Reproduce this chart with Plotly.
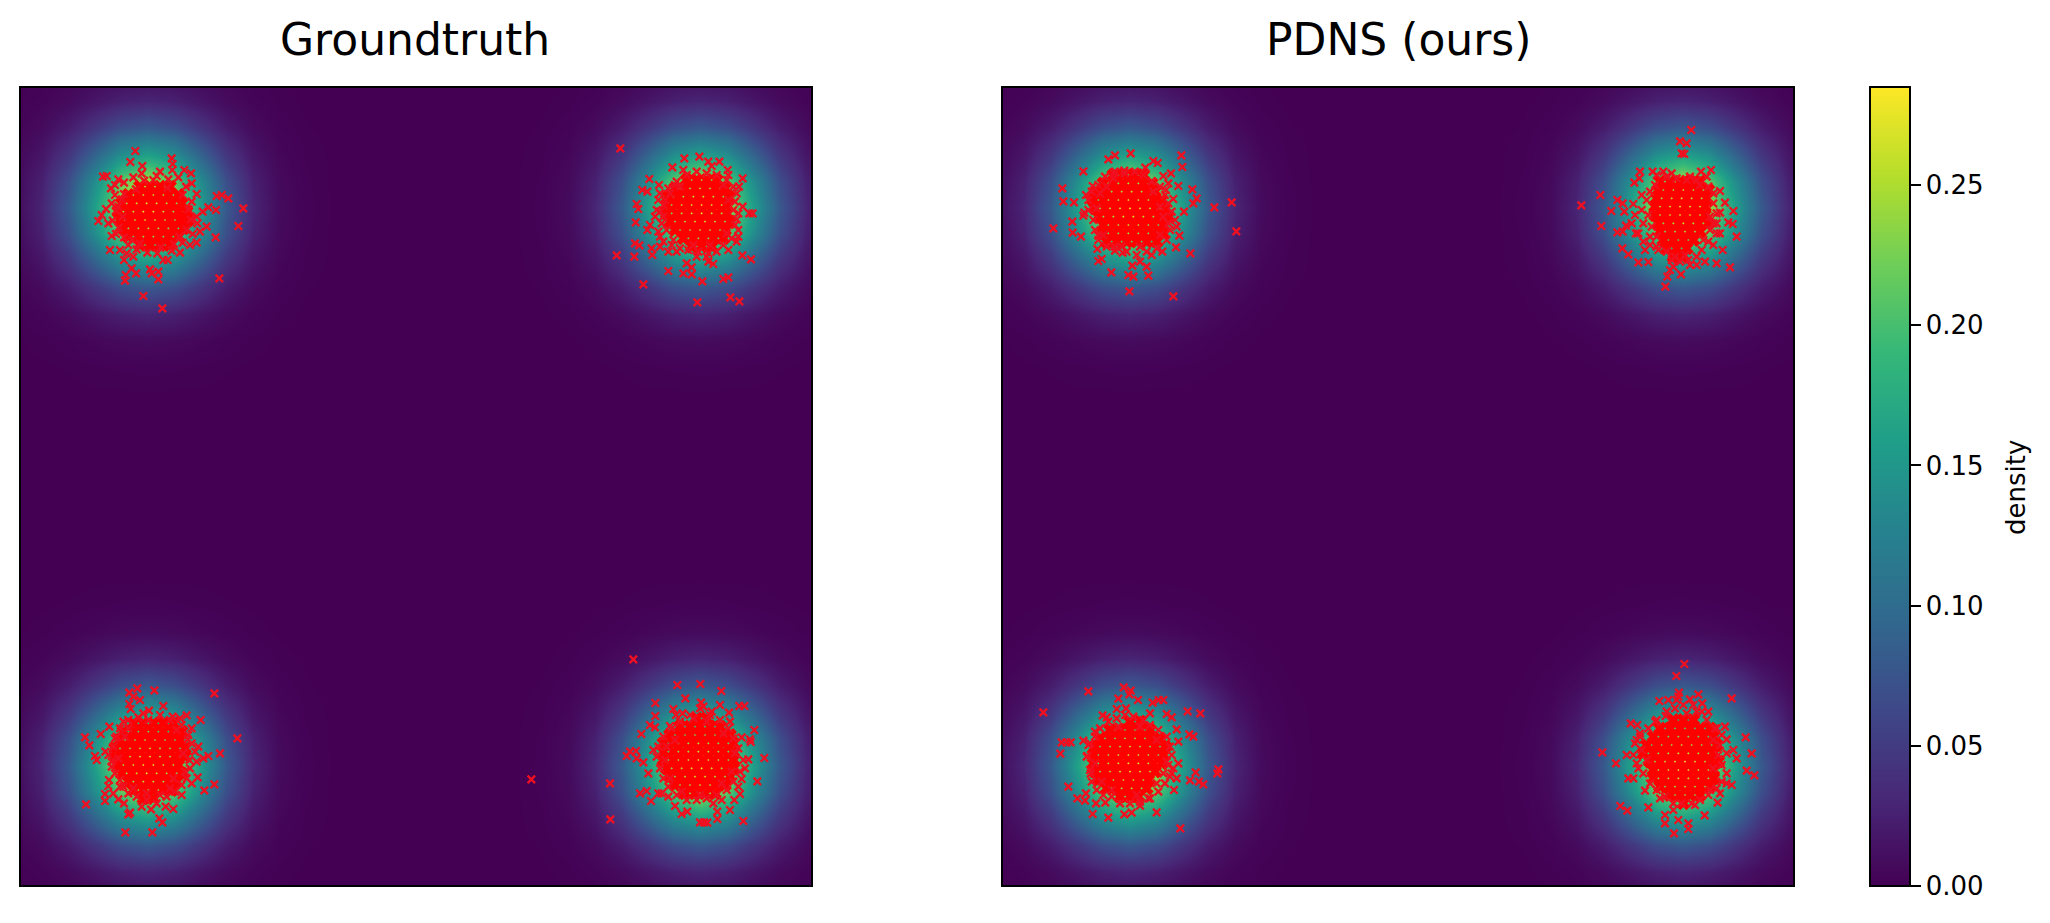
import numpy as np
import plotly.graph_objects as go

# ---- density (upper-right quadrant, 0.2 data-unit cells)
blob_quadrant = [
    [.2830, .2455, .1602, .0785, .0291, .0081, .0017, .0003, .0000],
    [.2455, .2129, .1390, .0681, .0252, .0070, .0015, .0002, .0000],
    [.1602, .1390, .0905, .0445, .0165, .0046, .0010, .0002, .0000],
    [.0785, .0681, .0445, .0219, .0081, .0022, .0005, .0001, .0000],
    [.0291, .0252, .0165, .0081, .0030, .0008, .0002, .0000, .0000],
    [.0081, .0070, .0046, .0022, .0008, .0002, .0000, .0000, .0000],
    [.0017, .0015, .0010, .0005, .0002, .0000, .0000, .0000, .0000],
    [.0003, .0002, .0002, .0001, .0000, .0000, .0000, .0000, .0000],
    [.0000, .0000, .0000, .0000, .0000, .0000, .0000, .0000, .0000],
]
grid_x0, grid_y0, grid_step, grid_n = -3.64, -3.70, 0.2, 38
mode_cells = [(8, 8), (8, 29), (29, 8), (29, 29)]
colorbar_ticks = [0.0, 0.05, 0.10, 0.15, 0.20, 0.25]
density_max = 0.285

# ---- samples, read in 3x crop units; outer crosses one by one
gt_tl = [(406,273),(391,306),(427,318),(515,295),(518,312),(517,330),(553,330),(573,340),(309,350),(320,348),(355,358),(333,385),(480,335),(575,370),(590,402),(650,408),(665,405),(685,415),(730,445),(715,498),(648,450),(625,442),(608,455),(620,500),(647,532),(590,548),(540,578),(503,600),(490,600),(475,635),(450,628),(455,640),(475,658),(658,655),(430,708),(487,745),(395,625),(408,640),(377,645),(375,662),(372,600),(400,590),(380,580),(330,570),(360,570),(335,528),(325,490),(295,483),(305,465),(318,447),(460,360),(425,340),(570,555),(600,515)]
gt_tr = [(181,265),(373,295),(418,290),(445,305),(455,318),(478,305),(503,330),(337,322),(370,330),(268,357),(247,390),(262,395),(297,375),(230,432),(235,447),(227,487),(270,495),(262,510),(290,450),(225,550),(238,556),(170,586),(223,590),(277,585),(275,565),(300,560),(325,575),(350,575),(380,610),(395,622),(370,640),(395,643),(325,633),(427,664),(250,673),(412,727),(490,657),(505,652),(511,712),(538,724),(547,586),(573,598),(505,570),(445,605),(460,612),(535,530),(530,478),(548,440),(568,460),(578,460),(548,355),(537,380),(500,360),(440,590),(410,590),(300,530),(285,470),(315,420),(345,375),(530,545)]
gt_bl = [(412,145),(388,158),(400,170),(463,151),(643,160),(420,180),(388,192),(392,207),(447,212),(490,198),(430,220),(560,226),(540,235),(518,230),(602,240),(328,260),(302,282),(370,245),(575,265),(255,292),(268,316),(712,295),(660,340),(625,348),(595,320),(610,355),(285,348),(290,360),(316,335),(350,290),(563,298),(568,360),(593,412),(643,433),(613,451),(575,430),(327,420),(325,438),(340,460),(315,462),(315,483),(355,478),(372,490),(258,493),(390,518),(385,523),(425,500),(453,508),(497,500),(520,507),(478,535),(487,547),(376,577),(457,577),(545,465),(360,440),(335,365)]
gt_br = [(400,58),(532,135),(601,132),(664,153),(556,175),(466,189),(603,188),(660,195),(718,198),(733,198),(520,207),(548,220),(466,228),(528,225),(687,218),(450,255),(465,262),(424,282),(510,258),(635,215),(690,245),(763,270),(725,292),(750,298),(752,306),(460,330),(380,348),(390,335),(408,333),(410,355),(430,367),(793,354),(745,358),(445,400),(330,430),(94,418),(772,424),(725,417),(720,462),(420,460),(440,453),(475,460),(485,460),(453,483),(505,470),(525,498),(545,522),(562,515),(600,547),(612,547),(622,548),(652,515),(652,537),(690,510),(730,543),(331,538),(703,480),(665,480),(735,385),(715,440)]
pd_tl = [(392,280),(345,286),(325,298),(544,286),(547,321),(460,303),(473,309),(250,334),(436,323),(373,332),(342,340),(490,348),(513,340),(187,385),(278,378),(190,424),(222,427),(258,405),(505,370),(535,378),(577,388),(590,415),(580,430),(520,417),(643,442),(695,427),(552,455),(709,514),(160,505),(217,485),(253,458),(218,518),(243,530),(538,527),(528,562),(571,580),(487,575),(295,527),(292,567),(305,597),(295,603),(345,572),(368,578),(397,617),(420,605),(440,620),(445,647),(385,645),(400,650),(334,637),(388,694),(520,709),(250,467),(530,500),(498,390),(455,585)]
pd_tr = [(574,210),(540,244),(560,250),(545,280),(553,282),(420,335),(458,335),(490,335),(515,340),(603,335),(633,330),(570,350),(418,355),(403,368),(660,393),(301,405),(244,436),(425,405),(352,420),(368,430),(400,432),(334,453),(373,455),(675,428),(700,453),(660,458),(685,487),(698,492),(710,530),(304,498),(352,517),(368,515),(378,497),(408,520),(660,520),(640,555),(668,570),(367,565),(385,583),(415,607),(445,606),(435,570),(470,560),(615,605),(650,610),(690,622),(590,615),(570,615),(520,620),(510,630),(543,643),(502,650),(496,680),(650,490),(430,490),(450,530)]
pd_bl = [(371,142),(392,152),(388,163),(265,154),(130,217),(355,176),(414,180),(458,188),(476,180),(490,180),(350,207),(378,205),(450,220),(500,222),(515,232),(563,214),(601,220),(308,226),(320,232),(530,268),(568,283),(580,290),(185,307),(200,307),(212,307),(181,341),(250,302),(270,310),(285,275),(535,305),(262,348),(535,370),(655,388),(652,400),(587,397),(570,421),(597,425),(610,433),(272,400),(205,440),(232,475),(258,460),(255,482),(288,490),(316,488),(278,522),(325,533),(373,523),(395,518),(420,497),(470,517),(541,565),(522,450),(530,415),(450,475),(515,400)]
pd_br = [(553,72),(529,108),(537,158),(595,163),(695,175),(478,183),(505,180),(530,180),(570,178),(607,190),(625,215),(590,215),(497,228),(392,250),(412,255),(466,245),(675,260),(650,265),(680,298),(737,292),(700,330),(755,340),(710,355),(307,337),(348,370),(380,345),(385,415),(400,415),(740,392),(763,406),(695,435),(680,430),(435,452),(660,460),(653,488),(614,526),(445,502),(361,498),(382,512),(495,525),(495,550),(520,510),(535,540),(565,550),(565,567),(522,580),(585,495),(410,300),(420,280),(410,370)]

# ---- crosses in the dense band around each solid core (estimated)
gt_tl_mid = [(345,375),(372,368),(400,352),(432,362),(470,348),(505,358),(535,352),(558,380),(345,405),(372,402),(548,405),(575,425),(590,470),(335,430),(348,452),(338,482),(356,503),(348,522),(372,532),(385,555),(410,568),(442,578),(472,580),(515,572),(548,548),(578,522),(592,490),(572,478),(560,510),(566,448),(408,388),(502,384),(396,540),(482,562),(522,552),(368,470),(366,418),(538,530),(420,550),(355,440)]
gt_tr_mid = [(300,400),(325,385),(350,365),(380,345),(410,335),(440,340),(470,345),(505,345),(520,380),(530,400),(525,425),(520,450),(535,460),(525,495),(535,510),(515,535),(490,555),(470,575),(445,580),(415,575),(385,570),(360,565),(335,555),(310,545),(295,515),(305,490),(300,455),(310,435),(295,420),(340,540),(500,520),(330,400),(360,380),(490,375),(505,420),(310,470),(320,510),(450,555),(400,555)]
gt_bl_mid = [(385,240),(415,232),(445,240),(480,225),(510,240),(545,255),(565,285),(575,310),(585,335),(590,365),(570,385),(560,415),(545,435),(525,455),(500,470),(470,490),(440,480),(410,470),(385,460),(360,420),(345,400),(335,380),(325,345),(340,320),(345,295),(360,265),(385,265),(530,270),(550,340),(555,395),(370,440),(400,445),(480,465),(510,445),(355,355),(375,290),(520,415),(440,460)]
gt_br_mid = [(600,205),(570,225),(540,245),(515,265),(490,290),(475,320),(470,350),(480,385),(490,415),(505,440),(530,465),(560,480),(590,480),(620,475),(650,465),(680,450),(700,425),(720,395),(730,360),(715,325),(700,295),(685,265),(660,240),(630,225),(640,490),(610,200),(500,320),(495,360),(510,415),(545,455),(600,465),(665,430),(695,395),(705,340),(670,280),(580,235),(620,245),(525,300)]
pd_tl_mid = [(345,335),(375,340),(405,335),(430,345),(455,365),(480,380),(495,405),(505,430),(515,455),(525,480),(510,510),(500,540),(470,565),(440,575),(410,585),(380,575),(345,560),(320,560),(295,540),(285,510),(280,480),(265,450),(265,420),(275,395),(295,375),(315,350),(340,355),(460,395),(480,440),(505,490),(480,525),(420,560),(365,560),(310,525),(290,445),(300,400),(320,380),(490,470)]
pd_tr_mid = [(470,345),(500,350),(530,355),(560,360),(590,360),(620,350),(625,380),(640,400),(640,430),(650,460),(640,490),(650,520),(625,545),(605,570),(590,590),(565,600),(540,605),(515,600),(500,575),(475,570),(450,555),(430,545),(415,520),(395,490),(405,465),(425,450),(440,420),(450,395),(465,375),(630,470),(630,510),(455,500),(470,530),(610,540),(555,585),(525,590),(445,465),(600,375)]
pd_bl_mid = [(375,225),(400,230),(430,240),(450,255),(475,270),(500,290),(510,320),(515,345),(505,375),(520,385),(510,410),(495,430),(475,455),(445,475),(420,485),(390,490),(360,490),(335,470),(310,465),(290,450),(275,425),(270,390),(260,350),(265,315),(285,290),(300,265),(325,245),(350,235),(490,400),(470,430),(305,425),(335,450),(285,370),(470,300),(500,365),(355,260),(420,260),(410,465)]
pd_br_mid = [(535,170),(550,195),(580,195),(605,215),(620,240),(645,265),(665,285),(660,315),(680,340),(665,375),(680,400),(665,425),(650,445),(625,465),(600,480),(575,490),(545,490),(520,490),(495,470),(470,450),(450,430),(430,400),(415,385),(400,345),(405,310),(420,290),(445,265),(470,240),(500,215),(525,205),(560,220),(640,385),(655,345),(630,450),(480,475),(440,360),(425,330),(640,300)]

# ---- solid red core of each cluster, estimated per row as (crop y, crop x values)
gt_tl_core = [(380,[420,450,480,510]),(405,[385,415,445,475,505,535]),(430,[365,395,425,455,485,515,545]),(455,[355,385,415,445,475,505,535,560]),(480,[360,390,420,450,480,510,540,565]),(505,[370,400,430,460,490,520,550]),(530,[385,415,445,475,505,535]),(555,[420,450,480,510])]
gt_tr_core = [(360,[380,410,440,470]),(385,[345,375,405,435,465,495]),(410,[325,355,385,415,445,475,505]),(435,[320,350,380,410,440,470,500]),(460,[320,350,380,410,440,470,500]),(485,[330,360,390,420,450,480,510]),(510,[345,375,405,435,465,495]),(535,[370,400,430,460,490]),(560,[395,425,455])]
gt_bl_core = [(250,[400,430,460,490,520]),(275,[370,400,430,460,490,520,545]),(300,[360,390,420,450,480,510,540]),(325,[345,375,405,435,465,495,525,555]),(350,[345,375,405,435,465,495,525,555]),(375,[355,385,415,445,475,505,535]),(400,[365,395,425,455,485,515,545]),(425,[385,415,445,475,505,530]),(450,[400,430,460,490,515]),(475,[430,460])]
gt_br_core = [(235,[590,620]),(260,[540,570,600,630,660]),(285,[510,540,570,600,630,660,690]),(310,[490,520,550,580,610,640,670,700]),(335,[490,520,550,580,610,640,670,700]),(360,[490,520,550,580,610,640,670,700]),(385,[500,530,560,590,620,650,680,700]),(410,[510,540,570,600,630,660,690]),(435,[525,555,585,615,645,675]),(460,[555,585,615,645])]
pd_tl_core = [(345,[340,370,400,430]),(370,[310,340,370,400,430,455]),(395,[290,320,350,380,410,440,465]),(420,[280,310,340,370,400,430,460,485]),(445,[285,315,345,375,405,435,465,495]),(470,[295,325,355,385,415,445,475,505]),(495,[310,340,370,400,430,460,490]),(520,[310,340,370,400,430,460,490]),(545,[320,350,380,410,440,470])]
pd_tr_core = [(365,[480,510,540,570,600]),(390,[475,505,535,565,595,625]),(415,[470,500,530,560,590,620]),(440,[465,495,525,555,585,615]),(465,[465,495,525,555,585,615]),(490,[475,505,535,565,595,625]),(515,[480,510,540,570,600]),(540,[490,520,550,580]),(565,[500,530,560]),(590,[520,545])]
pd_bl_core = [(245,[390,420]),(270,[330,360,390,420,450]),(295,[300,330,360,390,420,450,480]),(320,[285,315,345,375,405,435,465,495]),(345,[280,310,340,370,400,430,460,490]),(370,[280,310,340,370,400,430,460,485]),(395,[285,315,345,375,405,435,465]),(420,[295,325,355,385,415,445]),(445,[320,350,380,410,440]),(470,[360,390,415])]
pd_br_core = [(240,[520,550,580]),(265,[480,510,540,570,600,630]),(290,[460,490,520,550,580,610,640]),(315,[440,470,500,530,560,590,620,650]),(340,[430,460,490,520,550,580,610,640]),(365,[450,480,510,540,570,600,630,655]),(390,[460,490,520,550,580,610,640]),(415,[460,490,520,550,580,610,640]),(440,[480,510,540,570,600,630]),(465,[510,540,570,600]),(490,[550])]

panel_titles = ["Groundtruth", "PDNS (ours)"]
colorbar_title = "density"

# ---- build
W, H = 2050, 923
FONT = "DejaVu Sans"
AX_W, AX_H, AX_TOP = 790, 797, 88
LEFTS = [21, 1003]


def to_data(points, origin, left):
    ox, oy = origin
    pts = np.array(points, dtype=float)
    return (-3 + (ox + pts[:, 0] / 3 - left) * 6 / AX_W,
            3 - (oy + pts[:, 1] / 3 - AX_TOP) * 6 / AX_H)


def flatten(rows):
    return [(x, y) for y, xs in rows for x in xs]


quad = np.array(blob_quadrant)
blob = np.block([[quad[::-1, ::-1], quad[::-1, 1:]], [quad[1:, ::-1], quad[1:, 1:]]])
density = np.zeros((grid_n, grid_n))
for r, c in mode_cells:
    density[r - 8:r + 9, c - 8:c + 9] = blob

panels = [
    [(gt_tl, gt_tl_mid, gt_tl_core, (0, 60)), (gt_tr, gt_tr_mid, gt_tr_core, (560, 60)),
     (gt_bl, gt_bl_mid, gt_bl_core, (0, 640)), (gt_br, gt_br_mid, gt_br_core, (500, 640))],
    [(pd_tl, pd_tl_mid, pd_tl_core, (1000, 60)), (pd_tr, pd_tr_mid, pd_tr_core, (1500, 60)),
     (pd_bl, pd_bl_mid, pd_bl_core, (1000, 640)), (pd_br, pd_br_mid, pd_br_core, (1500, 640))],
]

fig = go.Figure()
for k, clusters in enumerate(panels):
    xa, ya = ("x", "y") if k == 0 else ("x2", "y2")
    fig.add_trace(go.Heatmap(z=density, x0=grid_x0, dx=grid_step, y0=grid_y0, dy=grid_step,
                             coloraxis="coloraxis", zsmooth="best", xaxis=xa, yaxis=ya,
                             hoverinfo="skip"))
    for ring, mid, core, origin in clusters:
        cx, cy = to_data(flatten(core), origin, LEFTS[k])
        fig.add_trace(go.Scatter(x=cx, y=cy, mode="markers", xaxis=xa, yaxis=ya, showlegend=False,
                                 marker=dict(symbol="x-thin", size=10, color="#ff0000",
                                             line=dict(color="#ff0000", width=5.5))))
        rx, ry = to_data(ring + mid, origin, LEFTS[k])
        fig.add_trace(go.Scatter(x=rx, y=ry, mode="markers", xaxis=xa, yaxis=ya, showlegend=False,
                                 marker=dict(symbol="x-thin", size=7.5, color="#ff0000",
                                             line=dict(color="#f01020", width=2.3))))

axis_style = dict(range=[-3, 3], showgrid=False, zeroline=False, showticklabels=False, ticks="",
                  showline=True, mirror=True, linecolor="black", linewidth=2)
y_dom = [(H - AX_TOP - AX_H) / H, (H - AX_TOP) / H]
fig.update_layout(
    width=W, height=H, autosize=False, margin=dict(l=0, r=0, t=0, b=0),
    paper_bgcolor="white", plot_bgcolor="white", showlegend=False,
    xaxis=dict(domain=[LEFTS[0] / W, (LEFTS[0] + AX_W) / W], **axis_style),
    yaxis=dict(domain=y_dom, **axis_style),
    xaxis2=dict(domain=[LEFTS[1] / W, (LEFTS[1] + AX_W) / W], **axis_style),
    yaxis2=dict(domain=y_dom, anchor="x2", **axis_style),
    coloraxis=dict(
        cmin=0, cmax=density_max, colorscale="Viridis",
        colorbar=dict(
            x=1870 / W, xanchor="left", xpad=0, y=37 / H, yanchor="bottom", ypad=0,
            len=799 / H, lenmode="fraction", thickness=40, thicknessmode="pixels",
            outlinecolor="black", outlinewidth=2, tickvals=colorbar_ticks, tickformat=".2f",
            tickprefix="\u00a0", ticks="outside", ticklen=10, tickwidth=2, tickcolor="black",
            tickfont=dict(family=FONT, size=26, color="black"),
        ),
    ),
    annotations=[
        dict(text=panel_titles[0], x=415 / W, y=(H - 39) / H, xref="paper", yref="paper",
             showarrow=False, xanchor="center", yanchor="middle",
             font=dict(family=FONT, size=44, color="black")),
        dict(text=panel_titles[1], x=1398 / W, y=(H - 39) / H, xref="paper", yref="paper",
             showarrow=False, xanchor="center", yanchor="middle",
             font=dict(family=FONT, size=44, color="black")),
        dict(text=colorbar_title, x=2016 / W, y=(H - 488) / H, xref="paper", yref="paper",
             showarrow=False, textangle=-90, xanchor="center", yanchor="middle",
             font=dict(family=FONT, size=26, color="black")),
    ],
)

fig.write_html("out.html", config={"displayModeBar": False},
               post_script="document.body.style.margin='0';document.body.style.overflow='hidden';")
